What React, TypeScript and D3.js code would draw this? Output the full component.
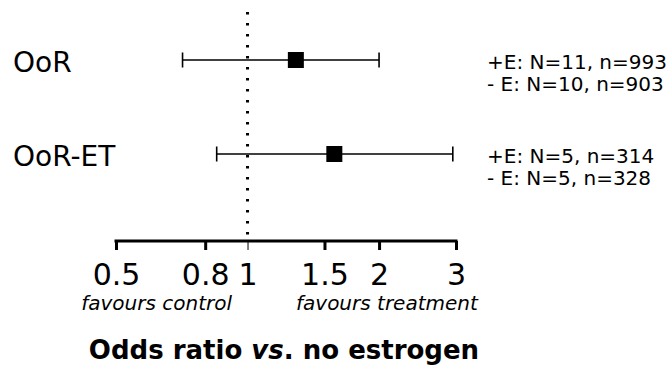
import { useEffect, useRef } from "react"
import * as d3 from "d3"

const studies = ["OoR", "OoR-ET"]
const oddsRatio = [1.29, 1.58]
const ciLow = [0.71, 0.85]
const ciHigh = [2.0, 2.95]
const groupLines = [
  ["+E: N=11, n=993", "- E: N=10, n=903"],
  ["+E: N=5, n=314", "- E: N=5, n=328"],
]
const tickValues = [0.5, 0.8, 1, 1.5, 2, 3]

const W = 672
const H = 365
const FONT = "'DejaVu Sans', Verdana, sans-serif"

export default function App() {
  const svgRef = useRef<SVGSVGElement>(null)

  useEffect(() => {
    if (!svgRef.current) return
    const svg = d3.select(svgRef.current)
    svg.selectAll("*").remove()

    const x = d3.scaleLog().domain([0.5, 3]).range([116, 456])
    const y = d3.scalePoint<string>().domain(studies).range([60, 154])
    const axisY = 241

    // reference line at OR = 1
    svg.append("line")
      .attr("x1", x(1)).attr("x2", x(1))
      .attr("y1", 12).attr("y2", axisY)
      .attr("stroke", "#000")
      .attr("stroke-width", 3)
      .attr("stroke-dasharray", "2.5 8.5")

    const rows = svg.selectAll(".row")
      .data(studies)
      .enter()
      .append("g")
      .attr("class", "row")

    rows.append("text")
      .attr("x", 13)
      .attr("y", (d) => (y(d) || 0) + 12)
      .attr("font-family", FONT)
      .attr("font-size", 28)
      .text((d) => d)

    rows.append("line")
      .attr("x1", (_, i) => x(ciLow[i]))
      .attr("x2", (_, i) => x(ciHigh[i]))
      .attr("y1", (d) => y(d) || 0)
      .attr("y2", (d) => y(d) || 0)
      .attr("stroke", "#000")
      .attr("stroke-width", 1.6)

    for (const side of [ciLow, ciHigh]) {
      rows.append("line")
        .attr("x1", (_, i) => x(side[i]))
        .attr("x2", (_, i) => x(side[i]))
        .attr("y1", (d) => (y(d) || 0) - 7.5)
        .attr("y2", (d) => (y(d) || 0) + 7.5)
        .attr("stroke", "#000")
        .attr("stroke-width", 1.6)
    }

    rows.append("rect")
      .attr("x", (_, i) => x(oddsRatio[i]) - 8)
      .attr("y", (d) => (y(d) || 0) - 8)
      .attr("width", 16)
      .attr("height", 16)
      .attr("fill", "#000")

    rows.each(function (d, i) {
      const g = d3.select(this)
      groupLines[i].forEach((t, j) => {
        g.append("text")
          .attr("x", 487)
          .attr("y", (y(d) || 0) + 9 + j * 22)
          .attr("font-family", FONT)
          .attr("font-size", 20)
          .text(t)
      })
    })

    // axis
    const axis = d3.axisBottom(x)
      .tickValues(tickValues)
      .tickFormat((d) => String(d))
      .tickSize(9)
      .tickSizeOuter(0)
      .tickPadding(13.5)

    const ax = svg.append("g")
      .attr("transform", `translate(0,${axisY})`)
      .call(axis)
    ax.select(".domain").attr("stroke-width", 3).attr("d", `M${x(0.5) - 1.5},0H${x(3) + 1.5}`)
    ax.selectAll(".tick line")
      .attr("stroke-width", (d: any) => (d === 1 ? 1 : 3))
    ax.selectAll(".tick text")
      .attr("font-family", FONT)
      .attr("font-size", 30)
      .attr("fill", "#000")

    svg.append("text")
      .attr("x", 232).attr("y", 310)
      .attr("text-anchor", "end")
      .attr("font-family", FONT)
      .attr("font-style", "italic")
      .attr("font-size", 20)
      .text("favours control")

    svg.append("text")
      .attr("x", 296).attr("y", 310)
      .attr("font-family", FONT)
      .attr("font-style", "italic")
      .attr("font-size", 20)
      .text("favours treatment")

    const title = svg.append("text")
      .attr("x", 284).attr("y", 359)
      .attr("text-anchor", "middle")
      .attr("font-family", FONT)
      .attr("font-weight", "bold")
      .attr("font-size", 26)
    title.append("tspan").text("Odds ratio ")
    title.append("tspan").attr("font-style", "italic").text("vs")
    title.append("tspan").text(". no estrogen")
  }, [])

  return (
    <svg
      ref={svgRef}
      width={W}
      height={H}
      style={{ position: "absolute", left: 0, top: 0, background: "#fff" }}
    />
  )
}
